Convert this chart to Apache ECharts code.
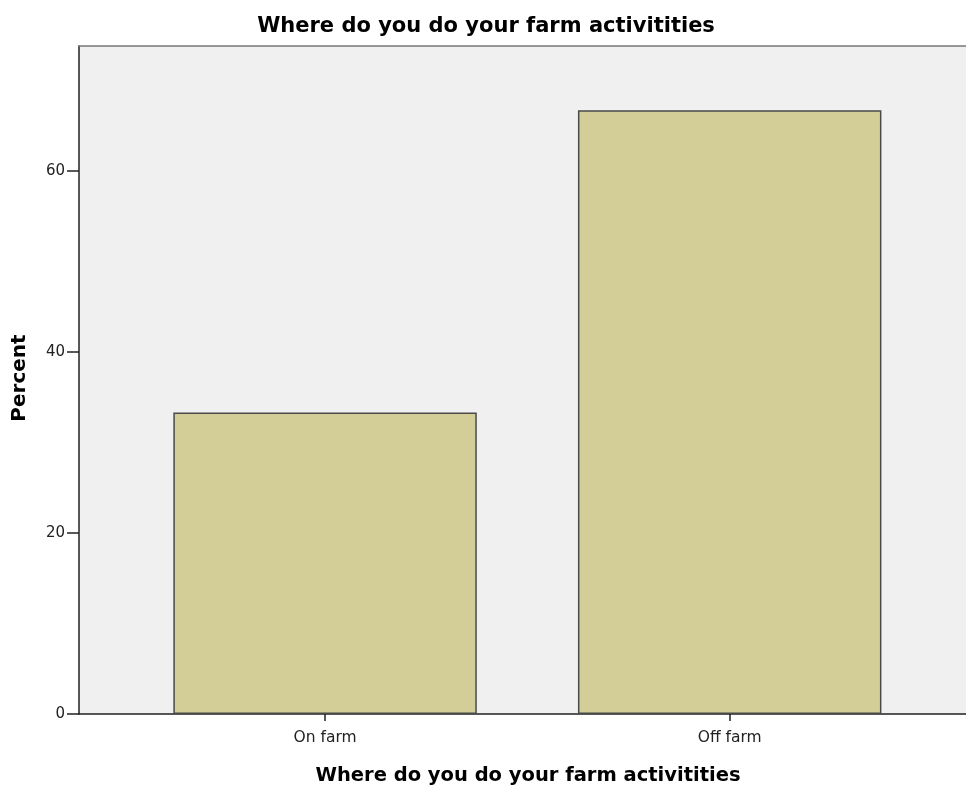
<!DOCTYPE html>
<html>
<head>
<meta charset="utf-8">
<script src="https://cdn.jsdelivr.net/npm/echarts@6/dist/echarts.min.js"></script>
<style>html,body{margin:0;padding:0;background:#fff}#c{width:966px;height:788px}</style>
</head>
<body>
<div id="c"></div>
<script>
const categories = ['On farm', 'Off farm'];
const percentValues = [33.3, 66.7];
const yTicks = [0, 20, 40, 60];
const chartTitle = 'Where do you do your farm activitities';
const xTitle = 'Where do you do your farm activitities';
const yTitle = 'Percent';

const YMAX = 73.8;
const chart = echarts.init(document.getElementById('c'), null, {renderer: 'canvas'});
chart.setOption({
  animation: false,
  backgroundColor: '#ffffff',
  graphic: [
    {type: 'text', x: 486, y: 27, style: {text: chartTitle, textAlign: 'center', textVerticalAlign: 'middle', font: 'bold 21px "DejaVu Sans"', fill: '#000'}},
    {type: 'text', x: 528, y: 776, style: {text: xTitle, textAlign: 'center', textVerticalAlign: 'middle', font: 'bold 19.5px "DejaVu Sans"', fill: '#000'}},
    {type: 'text', x: 20, y: 378, rotation: Math.PI / 2, style: {text: yTitle, textAlign: 'center', textVerticalAlign: 'middle', font: 'bold 20px "DejaVu Sans"', fill: '#000'}}
  ],
  grid: [
    {left: 79, right: -10, top: 46, bottom: 74, show: true, backgroundColor: '#f0f0f0', borderWidth: 0},
    {left: 122.75, right: 34, top: 46, bottom: 74}
  ],
  xAxis: [
    {type: 'value', gridIndex: 0, position: 'bottom', min: 0, max: 1,
     axisLine: {show: true, onZero: false, lineStyle: {color: '#222', width: 1.5}},
     axisTick: {show: false}, axisLabel: {show: false}, splitLine: {show: false}},
    {type: 'category', gridIndex: 1, data: categories, position: 'bottom',
     axisLine: {show: false},
     axisTick: {show: true, alignWithLabel: true, length: 7, lineStyle: {color: '#222', width: 1.5}},
     axisLabel: {margin: 16, fontFamily: 'DejaVu Sans', fontSize: 15.5, color: '#222'}},
    {type: 'value', gridIndex: 0, position: 'top', min: 0, max: 1,
     axisLine: {show: true, onZero: false, lineStyle: {color: '#777', width: 1.5}},
     axisTick: {show: false}, axisLabel: {show: false}, splitLine: {show: false}}
  ],
  yAxis: [
    {type: 'value', gridIndex: 0, min: 0, max: YMAX, interval: 20,
     axisLine: {show: true, lineStyle: {color: '#222', width: 1.5}},
     axisTick: {show: true, length: 12, customValues: yTicks, lineStyle: {color: '#222', width: 1.5}},
     axisLabel: {margin: 14, fontFamily: 'DejaVu Sans', fontSize: 15, color: '#222',
       customValues: yTicks},
     splitLine: {show: false}},
    {type: 'value', gridIndex: 1, min: 0, max: YMAX, show: false, splitLine: {show: false}}
  ],
  series: [{
    type: 'bar', xAxisIndex: 1, yAxisIndex: 1, data: percentValues, barWidth: '75%',
    itemStyle: {color: '#d3ce97', borderColor: '#4a4a4a', borderWidth: 1.5}
  }]
});
</script>
</body>
</html>
